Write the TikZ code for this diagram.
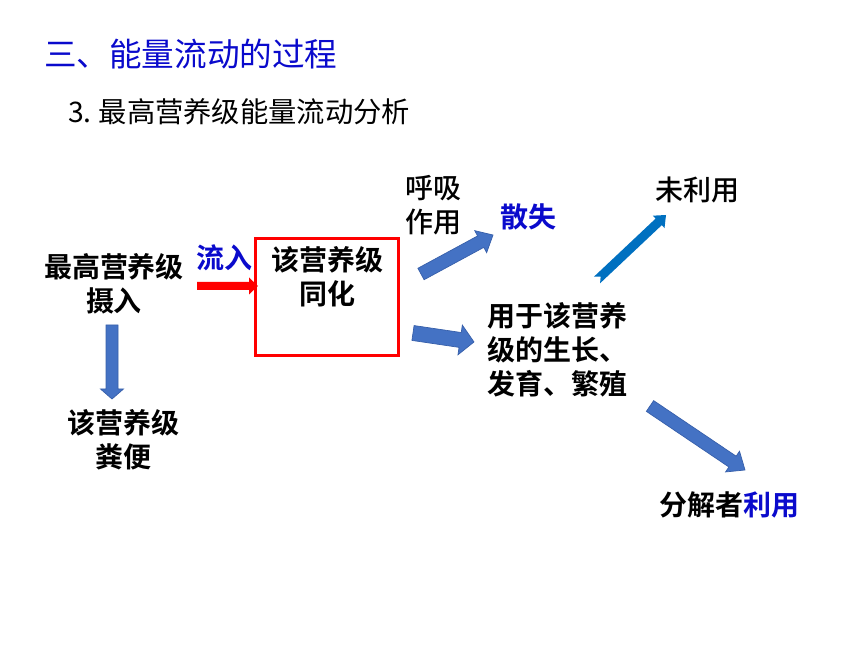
\documentclass[tikz,border=0pt]{standalone}
\usepackage{fontspec}
\setmainfont{Noto Sans CJK SC}[BoldFont={Noto Sans CJK SC Bold}]
\newfontfamily\medfont{Noto Sans CJK SC Medium}
\usetikzlibrary{calc}
\definecolor{ttlblue}{RGB}{10,10,204}
\definecolor{arrblue}{RGB}{68,114,196}
\definecolor{arredge}{RGB}{55,95,170}
\definecolor{skyblue}{RGB}{0,112,192}
\newcommand\blockarrow[7]{%
  \path[#7] let \p1=($(#2)-(#1)$), \n1={atan2(\y1,\x1)}, \n2={veclen(\x1,\y1)} in
    ($(#1)+(\n1+90:#3)$) -- ($(#1)+(\n1:\n2-#5)+(\n1+90:#3)$)
    -- ($(#1)+(\n1:\n2-#5)+(\n1+90:#4)$) -- (#2)
    -- ($(#1)+(\n1:\n2-#5)+(\n1-90:#4)$) -- ($(#1)+(\n1:\n2-#5)+(\n1-90:#3)$)
    -- ($(#1)+(\n1-90:#3)$) -- ($(#1)+(\n1:#6)$) -- cycle;
}
\tikzset{
  txt/.style={font=\fontsize{28}{34}\selectfont\medfont, align=center, inner sep=0pt},
  btxt/.style={font=\fontsize{28}{34}\selectfont\bfseries, align=center, inner sep=0pt},
  bluearrow/.style={fill=arrblue, draw=arredge, line width=0.7pt, line join=miter},
}
\begin{document}
\begin{tikzpicture}[x=1pt,y=1pt]
\useasboundingbox (0,0) rectangle (860,645);
% titles
\node[anchor=west, inner sep=0pt, text=ttlblue, font=\fontsize{32.6}{38}\selectfont] (title) at (44,591) {三、能量流动的过程};
\node[anchor=west, inner sep=0pt, font=\fontsize{28.3}{34}\selectfont] (sub) at (68,533) {3.\kern7pt最高营养级能量流动分析};
% nodes
\node[btxt] (intake) at (114,361.5) {最高营养级\\摄入};
\node[btxt, text=ttlblue] (inflow) at (224,387) {流入};
\node[draw=red, line width=3pt, minimum width=143pt, minimum height=117pt, inner sep=0pt] (box) at (327,348) {};
\node[btxt] (assim) at (327,368.5) {该营养级\\同化};
\node[btxt] (feces) at (123,205.5) {该营养级\\粪便};
\node[txt] (resp) at (433,440) {呼吸\\作用};
\node[btxt, text=ttlblue] (loss) at (528,428) {散失};
\node[btxt, align=left, anchor=west] (growth) at (487,295) {用于该营养\\级的生长、\\发育、繁殖};
\node[txt] (unused) at (697,455) {未利用};
\node[btxt] (decomp) at (729,140) {分解者{\color{ttlblue}利用}};
% arrow end points
\coordinate (a1s) at (112,320);  \coordinate (a1e) at (112,246);
\coordinate (a2s) at (197,359);  \coordinate (a2e) at (258,359);
\coordinate (a3s) at (421,371);  \coordinate (a3e) at (493,410);
\coordinate (a4s) at (413,312);  \coordinate (a4e) at (474,303);
\coordinate (a5s) at (597,365);  \coordinate (a5e) at (666,430);
\coordinate (a6s) at (650,239);  \coordinate (a6e) at (745,175);
% arrows
\blockarrow{a1s}{a1e}{6}{11.5}{10}{0}{bluearrow}
\blockarrow{a2s}{a2e}{4}{8.5}{9}{0}{fill=red}
\blockarrow{a3s}{a3e}{6.5}{12.5}{14}{0}{bluearrow}
\blockarrow{a4s}{a4e}{7.5}{15}{14}{0}{bluearrow}
\blockarrow{a5s}{a5e}{4.5}{8.5}{10}{5}{fill=skyblue}
\blockarrow{a6s}{a6e}{6.5}{12.5}{15}{0}{bluearrow}
\end{tikzpicture}
\end{document}
